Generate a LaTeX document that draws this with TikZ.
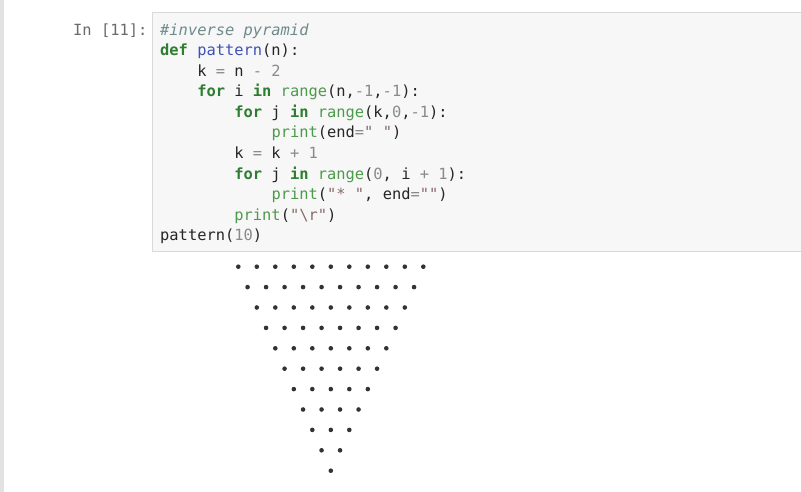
\documentclass[tikz,border=0pt]{standalone}
\usepackage{fontspec}
\setmonofont{DejaVu Sans Mono}
\usetikzlibrary{positioning}

\definecolor{cellbg}{HTML}{F7F7F7}
\definecolor{cellborder}{HTML}{DADADA}
\definecolor{leftbar}{HTML}{E2E2E2}
\definecolor{promptgray}{HTML}{6A6A6A}
\definecolor{comgray}{HTML}{6E8A8A}
\definecolor{kwgreen}{HTML}{2E7D32}
\definecolor{bigreen}{HTML}{4C9A4C}
\definecolor{fnblue}{HTML}{3F51B5}
\definecolor{numgray}{HTML}{8A8A8A}
\definecolor{strred}{HTML}{8A6A6A}
\definecolor{dotgray}{HTML}{333333}

\newcommand\pykw[1]{{\bfseries\color{kwgreen}#1}}
\newcommand\pybi[1]{{\color{bigreen}#1}}
\newcommand\pyfn[1]{{\color{fnblue}#1}}
\newcommand\pynum[1]{{\color{numgray}#1}}
\newcommand\pystr[1]{{\color{strred}#1}}

\begin{document}
\begin{tikzpicture}[x=1pt,y=-1pt,
  codeline/.style={anchor=base west, inner sep=0pt, font=\ttfamily\fontsize{15.4}{20}\selectfont, text=black!85},
  outdot/.style={fill=dotgray}]

\useasboundingbox (0,0) rectangle (801,492);
\clip (0,0) rectangle (801,492);

% notebook margin and code cell
\fill [leftbar] (0,0) rectangle (4,492);
\draw [fill=cellbg, draw=cellborder] (152,12) rectangle (805,251);

\node [codeline, text=promptgray] (prompt) at (73,35.5) {In [11]:};

% code lines
\node [codeline] (l0) at (160,35.5) {{\itshape\color{comgray}\#inverse pyramid}};
\node [codeline] (l1) at (160,56) {\pykw{def} \pyfn{pattern}(n):};
\node [codeline] (l2) at (197.1,76.5) {k \pynum{=} n \pynum{-} \pynum{2}};
\node [codeline] (l3) at (197.1,97) {\pykw{for} i \pykw{in} \pybi{range}(n,\pynum{-1},\pynum{-1}):};
\node [codeline] (l4) at (234.2,117.5) {\pykw{for} j \pykw{in} \pybi{range}(k,\pynum{0},\pynum{-1}):};
\node [codeline] (l5) at (271.3,138) {\pybi{print}(end\pynum{=}\pystr{" "})};
\node [codeline] (l6) at (234.2,158.5) {k \pynum{=} k \pynum{+} \pynum{1}};
\node [codeline] (l7) at (234.2,179) {\pykw{for} j \pykw{in} \pybi{range}(\pynum{0}, i \pynum{+} \pynum{1}):};
\node [codeline] (l8) at (271.3,199.5) {\pybi{print}(\pystr{"* "}, end\pynum{=}\pystr{""})};
\node [codeline] (l9) at (234.2,220) {\pybi{print}(\pystr{"\textbackslash r"})};
\node [codeline] (l10) at (160,240.5) {pattern(\pynum{10})};

% output: inverse pyramid of stars
\foreach \r in {0,...,10} {
  \pgfmathtruncatemacro{\last}{10-\r}
  \foreach \c in {0,...,\last} {
    \fill [outdot] (238.3+9.25*\r+18.5*\c, 266.7+20.4*\r) circle (2.3);
  }
}

\end{tikzpicture}
\end{document}
